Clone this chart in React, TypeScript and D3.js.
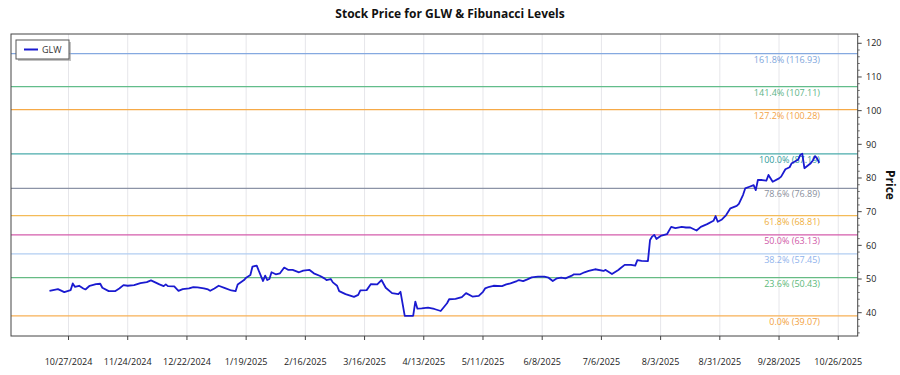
import React from 'react';
import * as d3 from 'd3';

const titleText = 'Stock Price for GLW & Fibunacci Levels';
const seriesName = 'GLW';
const yAxisLabel = 'Price';

const dates = [
  '2024-10-18','2024-10-22','2024-10-25','2024-10-28','2024-10-29','2024-10-30','2024-11-01','2024-11-03','2024-11-04','2024-11-06',
  '2024-11-09','2024-11-11','2024-11-12','2024-11-15','2024-11-18','2024-11-20','2024-11-22','2024-11-24','2024-11-27','2024-11-30',
  '2024-12-03','2024-12-05','2024-12-07','2024-12-09','2024-12-11','2024-12-12','2024-12-13','2024-12-16','2024-12-18','2024-12-20',
  '2024-12-23','2024-12-25','2024-12-27','2024-12-30','2025-01-01','2025-01-02','2025-01-04','2025-01-06','2025-01-09','2025-01-12',
  '2025-01-14','2025-01-15','2025-01-18','2025-01-19','2025-01-21','2025-01-22','2025-01-24','2025-01-25','2025-01-27','2025-01-28',
  '2025-01-29','2025-01-30','2025-01-31','2025-02-02','2025-02-04','2025-02-06','2025-02-08','2025-02-10','2025-02-13','2025-02-15',
  '2025-02-18','2025-02-20','2025-02-23','2025-02-25','2025-02-26','2025-02-28','2025-03-01','2025-03-03','2025-03-04','2025-03-06',
  '2025-03-07','2025-03-11','2025-03-13','2025-03-14','2025-03-17','2025-03-19','2025-03-22','2025-03-24','2025-03-26','2025-03-29',
  '2025-04-01','2025-04-02','2025-04-04','2025-04-08','2025-04-09','2025-04-10','2025-04-12','2025-04-15','2025-04-18','2025-04-21',
  '2025-04-24','2025-04-25','2025-04-28','2025-05-01','2025-05-03','2025-05-06','2025-05-09','2025-05-11','2025-05-12','2025-05-14',
  '2025-05-16','2025-05-20','2025-05-22','2025-05-24','2025-05-27','2025-05-28','2025-05-30','2025-06-01','2025-06-03','2025-06-06',
  '2025-06-09','2025-06-11','2025-06-13','2025-06-15','2025-06-17','2025-06-19','2025-06-22','2025-06-23','2025-06-26','2025-06-28',
  '2025-06-30','2025-07-03','2025-07-07','2025-07-08','2025-07-11','2025-07-14','2025-07-15','2025-07-17','2025-07-20','2025-07-22',
  '2025-07-23','2025-07-25','2025-07-28','2025-07-29','2025-07-30','2025-07-31','2025-08-01','2025-08-03','2025-08-06','2025-08-08',
  '2025-08-10','2025-08-13','2025-08-15','2025-08-17','2025-08-20','2025-08-22','2025-08-25','2025-08-28','2025-08-29','2025-08-30',
  '2025-09-01','2025-09-03','2025-09-05','2025-09-08','2025-09-09','2025-09-11','2025-09-12','2025-09-14','2025-09-16','2025-09-17',
  '2025-09-18','2025-09-20','2025-09-22','2025-09-23','2025-09-25','2025-09-28','2025-09-29','2025-10-01','2025-10-03','2025-10-04',
  '2025-10-07','2025-10-08','2025-10-09','2025-10-10','2025-10-13','2025-10-14','2025-10-15','2025-10-16','2025-10-17'
];

const prices = [
  46.5,47.0,46.1,46.7,48.7,47.7,48.0,47.2,46.9,48.0,
  48.5,48.6,47.4,46.4,46.4,47.2,48.2,48.0,48.2,48.8,
  49.1,49.6,49.0,48.4,47.9,48.4,47.9,47.8,46.5,47.0,
  47.2,47.6,47.5,47.2,46.9,46.5,47.2,48.0,47.3,46.6,
  46.4,48.4,49.7,50.4,51.2,53.7,54.0,52.4,49.4,51.0,
  49.7,50.0,52.0,51.4,51.7,53.4,52.7,52.7,52.0,52.5,
  52.7,51.7,50.9,50.2,49.7,50.0,49.0,48.0,46.4,45.8,
  45.5,44.7,45.3,46.6,46.7,48.5,48.4,49.7,47.4,45.8,
  45.5,46.2,39.07,39.1,43.3,41.2,41.3,41.5,41.1,40.5,
  42.8,44.0,44.1,44.6,45.8,44.8,45.0,46.2,47.2,47.7,
  48.0,47.9,48.4,48.7,49.4,49.7,49.4,49.9,50.5,50.7,
  50.7,50.4,49.4,50.2,50.4,50.2,51.0,51.4,51.4,52.0,
  52.4,52.9,52.4,52.7,51.5,52.7,53.2,54.2,54.2,54.0,
  55.6,55.4,55.3,61.6,62.6,63.1,61.9,62.8,63.3,65.5,
  65.1,65.5,65.3,65.3,64.4,65.5,66.3,67.3,68.7,67.0,
  67.7,69.0,71.0,71.7,72.3,75.0,76.9,77.4,77.9,76.4,
  79.4,79.4,79.2,80.9,78.9,79.9,80.4,82.6,83.2,84.4,
  85.4,86.8,87.19,82.9,84.4,85.2,86.5,85.8,84.5
];

const fibLabels = ['0.0%', '23.6%', '38.2%', '50.0%', '61.8%', '78.6%', '100.0%', '127.2%', '141.4%', '161.8%'];
const fibValues = [39.07, 50.43, 57.45, 63.13, 68.81, 76.89, 87.19, 100.28, 107.11, 116.93];
const fibLineColors = ['#f7b056', '#66bb84', '#b2cef2', '#d45cab', '#f4bb58', '#8c93a6', '#4aabab', '#f6aa48', '#62bd8a', '#85a9e0'];
const fibTextColors = ['#f2a240', '#5cb87a', '#8fb3ec', '#d05aa8', '#efb03e', '#8a909c', '#2f9c9c', '#f3a446', '#5cb486', '#80a6dc'];

const xTickDates = [
  '2024-10-27','2024-11-24','2024-12-22','2025-01-19','2025-02-16','2025-03-16','2025-04-13',
  '2025-05-11','2025-06-08','2025-07-06','2025-08-03','2025-08-31','2025-09-28','2025-10-26'
];
const yTicks = [40, 50, 60, 70, 80, 90, 100, 110, 120];
const yDomain = [33.08, 122.76];

const W = 900, H = 375;
const L = 11, R = 857.7, T = 34, B = 336;
const FONT = "'Segoe UI', 'Open Sans', 'Noto Sans', sans-serif";

export default function App() {
  const parse = d3.timeParse('%Y-%m-%d');
  const data = dates.map((d, i) => ({ date: parse(d) as Date, v: prices[i] }));
  const ext = d3.extent(data, d => d.date) as [Date, Date];
  const span = +ext[1] - +ext[0];
  const x = d3.scaleTime()
    .domain([new Date(+ext[0] - span * 0.05), new Date(+ext[1] + span * 0.05)])
    .range([L, R]);
  const y = d3.scaleLinear().domain(yDomain).range([B, T]);
  const line = d3.line<{ date: Date; v: number }>()
    .x(d => x(d.date))
    .y(d => y(d.v));
  const fmt = d3.timeFormat('%-m/%-d/%Y');
  const xTicks = xTickDates.map(d => parse(d) as Date);
  const minorTicks = d3.range(34, 123, 2).filter(v => v % 10 !== 0 && v >= yDomain[0] && v <= yDomain[1]);

  return (
    <svg width={W} height={H} style={{ position: 'absolute', left: 0, top: 0, background: '#fff' }} fontFamily={FONT}>
      <text x={450} y={18} textAnchor="middle" fontSize={12} fontWeight="bold" fill="#111">{titleText}</text>

      {xTicks.map((t, i) => (
        <line key={'g' + i} x1={x(t)} x2={x(t)} y1={T} y2={B} stroke="#e6e6ea" strokeWidth={1} />
      ))}

      {fibValues.map((v, i) => (
        <g key={'f' + i}>
          <line x1={L} x2={R} y1={y(v)} y2={y(v)} stroke={fibLineColors[i]} strokeWidth={1.2} />
          <text x={820} y={y(v) + 9} textAnchor="end" fontSize={9} fill={fibTextColors[i]}>
            {`${fibLabels[i]} (${v.toFixed(2)})`}
          </text>
        </g>
      ))}

      <path d={line(data) || ''} fill="none" stroke="#1a1ad0" strokeWidth={1.8} strokeLinejoin="round" />

      <rect x={L} y={T} width={R - L} height={B - T} fill="none" stroke="#444" strokeWidth={1} />

      {xTicks.map((t, i) => (
        <g key={'xt' + i}>
          <line x1={x(t)} x2={x(t)} y1={B} y2={B + 4} stroke="#444" />
          <text x={x(t)} y={365} textAnchor="middle" fontSize={9} fill="#222">{fmt(t)}</text>
        </g>
      ))}

      {yTicks.map((v, i) => (
        <g key={'yt' + i}>
          <line x1={R} x2={R + 4} y1={y(v)} y2={y(v)} stroke="#444" />
          <text x={866} y={y(v) + 3.2} fontSize={9} fill="#222">{v}</text>
        </g>
      ))}
      {minorTicks.map((v, i) => (
        <line key={'ym' + i} x1={R} x2={R + 2} y1={y(v)} y2={y(v)} stroke="#666" />
      ))}

      <text transform={`translate(886,${(T + B) / 2}) rotate(90)`} textAnchor="middle" fontSize={12} fontWeight="bold" fill="#111">{yAxisLabel}</text>

      <g>
        <rect x={18} y={42} width={53} height={19} fill="#999" opacity={0.6} />
        <rect x={16} y={40} width={53} height={19} fill="#fff" stroke="#555" strokeWidth={1} />
        <line x1={24} x2={38} y1={49.5} y2={49.5} stroke="#1a1ad0" strokeWidth={2} />
        <text x={42} y={52.5} fontSize={9} fill="#333">{seriesName}</text>
      </g>
    </svg>
  );
}
